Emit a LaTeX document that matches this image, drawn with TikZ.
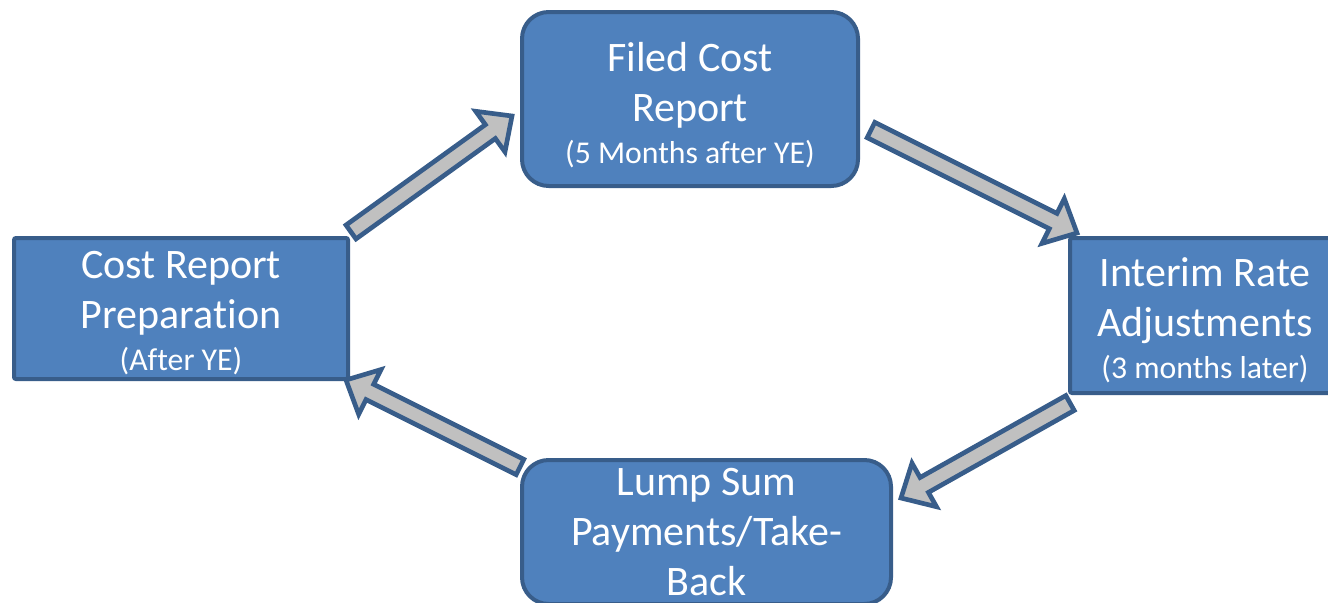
\documentclass[tikz,border=0pt]{standalone}
\usepackage{fontspec}
\setmainfont[Ligatures={NoCommon,NoContextual,NoRequired},Contextuals=NoAlternate]{Carlito}
\usetikzlibrary{calc}
\definecolor{boxfill}{HTML}{4F81BD}
\definecolor{boxline}{HTML}{385D8A}
\definecolor{arrfill}{HTML}{C0C0C0}
\tikzset{
  stepbox/.style={draw=boxline, fill=boxfill, line width=3pt, text=white,
    align=center, inner sep=0pt, font=\fontsize{31.5}{37.5}\selectfont},
  roundbox/.style={stepbox, rounded corners=20pt},
  squarebox/.style={stepbox, rounded corners=1.5pt},
  blockarrow/.style={draw=boxline, fill=arrfill, line width=3.5pt, line join=miter},
}
\newcommand{\smalltxt}[1]{{\fontsize{23.8}{28}\selectfont #1}}
\newcommand{\topstrut}[1]{\rule{0pt}{#1}}
\newcommand{\blockarr}[3]{% name, tail, tip
  \coordinate (#1n) at ($(#3)!20pt!(#2)$);
  \draw[blockarrow] ($(#2)!6.4pt!90:(#3)$) -- ($(#1n)!6.4pt!90:(#3)$)
    -- ($(#1n)!18.75pt!90:(#3)$) -- (#3) -- ($(#1n)!18.75pt!-90:(#3)$)
    -- ($(#1n)!6.4pt!-90:(#3)$) -- ($(#2)!6.4pt!-90:(#3)$) -- cycle;
}
\begin{document}
\begin{tikzpicture}[x=0.75pt, y=-0.75pt]
\clip (0,0) rectangle (1328,603);
\fill[white] (0,0) rectangle (1328,603);
% arrow end points
\coordinate (a1s) at (351,232);  \coordinate (a1e) at (512,116);
\coordinate (a2s) at (871,130);  \coordinate (a2e) at (1077,233);
\coordinate (a3s) at (1070,403); \coordinate (a3e) at (901,498);
\coordinate (a4s) at (520,467);  \coordinate (a4e) at (346,380);
\blockarr{a1}{a1s}{a1e}
\blockarr{a2}{a2s}{a2e}
\blockarr{a3}{a3s}{a3e}
\blockarr{a4}{a4s}{a4e}
% boxes
\node[roundbox, minimum width=252pt, minimum height=130.5pt] (filed) at (690,99)
  {\topstrut{31pt}Filed Cost\\Report\\[-6pt]\smalltxt{(5 Months af\kern0pt ter YE)}};
\node[squarebox, minimum width=250.5pt, minimum height=105.75pt] (prep) at (181,308.5)
  {\topstrut{27pt}Cost Report\\Preparat\kern0pt ion\\[-6pt]\smalltxt{(Af\kern0pt ter YE)}};
\node[squarebox, minimum width=202.5pt, minimum height=116.25pt] (interim) at (1205,315.5)
  {\topstrut{28.5pt}Interim Rate\\Adjustments\\[-6pt]\smalltxt{(3 months later)}};
\node[roundbox, minimum width=276.75pt, minimum height=108pt] (lump) at (706.5,532)
  {Lump Sum\\Payments/Take-\\Back};
\end{tikzpicture}
\end{document}
